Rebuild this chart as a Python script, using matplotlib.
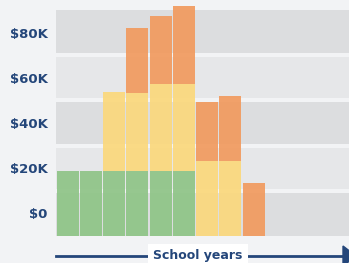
import numpy as np
import matplotlib.pyplot as plt
from matplotlib.patches import Polygon

# bar segment heights (axis units, 20 units = $20K, axis floor = -$10K)
years = np.arange(9)
green = [28.8, 28.8, 28.8, 28.8, 28.8, 28.8, 0, 0, 0]
yellow = [0, 0, 34.9, 34.5, 38.5, 38.5, 33.2, 33.2, 0]
orange = [0, 0, 0, 28.7, 30.0, 34.5, 26.1, 28.7, 23.5]

tick_pos = [10, 30, 50, 70, 90]
tick_labels = ['$0', '$20K', '$40K', '$60K', '$80K']

navy = '#24467a'
bg = '#f2f3f5'

fig = plt.figure(figsize=(3.49, 2.63), dpi=100)
fig.patch.set_facecolor(bg)
ax = fig.add_axes([56/349, 27/263, 293/349, 236/263])
ax.set_facecolor(bg)

# alternating grey bands with thin gaps
band_cols = ['#dcdddf', '#e6e7e9', '#dcdddf', '#e6e7e9', '#dcdddf']
for k, c in enumerate(band_cols):
    lo = 0 if k == 0 else 20*k + 0.9
    hi = 100 if k == 4 else 20*k + 20 - 0.9
    ax.axhspan(lo, hi, color=c, lw=0, zorder=0)

x = years + 0.5
w = 0.95
g = np.array(green)
yl = np.array(yellow)
o = np.array(orange)
ax.bar(x, g, w, color='#8ec486', alpha=0.92, lw=0, zorder=2)
ax.bar(x, yl, w, bottom=g, color='#fbd87c', alpha=0.92, lw=0, zorder=2)
ax.bar(x, o, w, bottom=g + yl, color='#f19a5e', alpha=0.92, lw=0, zorder=2)

ax.set_xlim(0, 293/23.25)
ax.set_ylim(0, 236/2.26)
ax.set_xticks([])
ax.set_yticks(tick_pos)
ax.set_yticklabels(tick_labels, fontsize=9.5, fontweight='bold',
                   color=navy, family='DejaVu Sans')
ax.tick_params(axis='y', length=0, pad=6)
for s in ax.spines.values():
    s.set_visible(False)

# bottom arrow with label
y_ar = 7/263
fig.add_artist(plt.Line2D([56/349, 345/349], [y_ar, y_ar],
                          color=navy, lw=2, transform=fig.transFigure))
fig.add_artist(Polygon([[343/349, 17/263],
                        [343/349, -3/263], [356/349, 7/263]],
                       closed=True, color=navy, transform=fig.transFigure))
fig.text(198/349, y_ar, 'School years', ha='center', va='center',
         fontsize=9, fontweight='bold', color=navy, family='DejaVu Sans',
         bbox=dict(boxstyle='square,pad=0.45', fc='white', ec='none'))

fig.savefig('out.png', dpi=100, facecolor=bg)
